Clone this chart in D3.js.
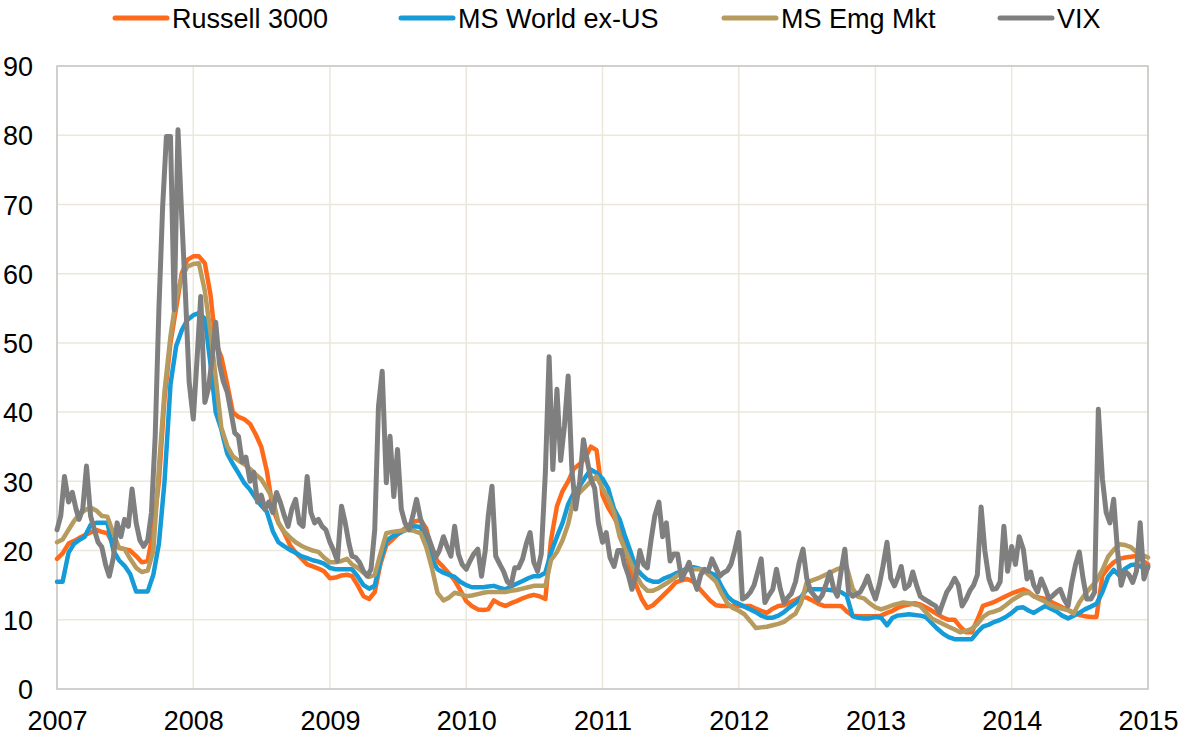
<!DOCTYPE html>
<html>
<head>
<meta charset="utf-8">
<script src="https://cdn.jsdelivr.net/npm/d3@7"></script>
<style>
    body { margin: 0; background: #fff; }
    .chart1 text { font-family: "Liberation Sans", Arial, sans-serif; fill: #000; }
</style>
</head>
<body>
<div class="chart1"></div>
<script>
// rolling volatility of the equity indices against the VIX, 2007 - 2015
var seriesNames = ["Russell 3000", "MS World ex-US", "MS Emg Mkt", "VIX"];
var seriesColors = ["#fe6a1a", "#159bd7", "#b69a5e", "#7f7f7f"];
var yearTicks = [2007, 2008, 2009, 2010, 2011, 2012, 2013, 2014, 2015];
var valueTicks = [0, 10, 20, 30, 40, 50, 60, 70, 80, 90];

// twice a month (1st and 16th), then 1 jan 2015
var russell = [18.8, 19.6, 21, 21.4, 21.8, 22.2, 22.6, 23, 22.7, 22.5, 20.8, 20.4, 20.2, 20, 19.2, 18.3, 18.5, 23, 30, 42, 50, 55, 60, 62,
    62.5, 62.5, 61.5, 57, 50, 48, 44, 40, 39.3, 39, 38.3, 36.8, 35, 31.5, 26, 24, 22.5, 20.8, 19.7, 18.9, 18, 17.7, 17.4, 17,
    16, 16.1, 16.4, 16.5, 16.3, 15, 13.4, 13, 14, 18, 20.8, 21.5, 22.3, 23, 23.7, 24.2, 24.4, 23.2, 19.8, 18.5, 17.6, 16.7, 15.7, 14.3,
    12.7, 12, 11.5, 11.4, 11.5, 12.8, 12.3, 12, 12.4, 12.7, 13.1, 13.4, 13.6, 13.4, 13, 21.5, 26.4, 28.6, 30, 31.8, 32.5, 33.4, 35, 34.5,
    28, 26.2, 24.8, 23.3, 21, 17.5, 15, 13, 11.7, 12.1, 12.9, 13.7, 14.5, 15.4, 15.7, 15.9, 15.5, 14.6, 13.7, 12.8, 12.1, 12, 12, 12,
    12, 12, 12, 11.6, 11.3, 11, 11.6, 12, 12.1, 12.5, 12.9, 13.3, 13.2, 12.8, 12.3, 12, 12, 12, 12, 11.2, 10.6, 10.5, 10.5, 10.5,
    10.5, 10.6, 11, 11.3, 11.7, 12, 12.2, 12.4, 12.2, 11.8, 11.3, 10.8, 10.3, 10, 10, 9, 8.2, 8.2, 10, 12, 12.3, 12.6, 13, 13.4,
    13.8, 14.1, 14.4, 14, 13.4, 13.2, 13, 12.6, 12.2, 11.8, 11.4, 11, 10.7, 10.5, 10.4, 10.4, 16.4, 17.5, 18.3, 18.8, 19, 19.1, 19.2, 18.6,
    18];
var msWorld = [15.5, 15.5, 19.7, 21, 21.5, 22, 23.7, 24, 24, 24, 20, 18.6, 17.8, 16.6, 14.1, 14.1, 14.1, 16.5, 21, 30, 44, 49.5, 51.8, 53.3,
    54, 54.3, 53.5, 47, 40, 37.5, 34, 32.5, 31.2, 29.8, 28.8, 27.6, 26.5, 25.6, 22.8, 21.2, 20.6, 20.1, 19.7, 19.2, 18.9, 18.6, 18.4, 18.1,
    17.5, 17.3, 17.3, 17.3, 17.3, 16.3, 15, 14.5, 14.9, 18.5, 21.4, 22, 22.4, 22.8, 23.2, 23.5, 23.4, 21, 18.7, 17.3, 16.8, 16.5, 16.2, 15.5,
    15, 14.7, 14.7, 14.7, 14.8, 14.9, 14.6, 14.4, 14.8, 15.2, 15.6, 16, 16.3, 16.3, 16.8, 19.7, 22, 24, 26.7, 28.3, 29.3, 30.6, 31.7, 31.2,
    30.4, 29, 26, 24.5, 22.3, 20, 17.4, 16.5, 15.8, 15.5, 15.5, 16, 16.3, 16.7, 17, 17.5, 17.6, 17.4, 17.1, 16.8, 16.4, 14.8, 13.4, 12.7,
    12.3, 11.9, 11.5, 11.1, 10.6, 10.3, 10.3, 10.6, 11.1, 11.8, 12.4, 13.3, 14.4, 14.4, 14.4, 14.4, 14.3, 14.2, 14, 13.5, 10.5, 10.3, 10.2, 10.2,
    10.4, 10.3, 9.2, 10.3, 10.6, 10.7, 10.8, 10.7, 10.6, 10.4, 9.5, 8.7, 8, 7.5, 7.2, 7.2, 7.2, 7.2, 8.2, 9, 9.3, 9.7, 10, 10.4,
    11, 11.7, 11.8, 11.3, 11, 11.5, 12, 11.6, 11.2, 10.6, 10.2, 10.6, 11, 11.5, 11.9, 12.3, 14, 16.2, 17.2, 16.4, 17.4, 17.9, 18, 17.6,
    17.5];
var msEmg = [21.2, 21.6, 23, 24.3, 25.2, 25.8, 26.2, 25.8, 25, 24.9, 22.5, 20.4, 20.2, 18.8, 17.5, 16.9, 17.1, 20, 32, 43, 51, 56.5, 59.5, 61,
    61.4, 61.5, 57.5, 51.5, 45, 37.8, 35.1, 33.6, 33, 32.5, 31.8, 31, 30.3, 29, 27.5, 24, 22.7, 21.9, 21.2, 20.7, 20.3, 20, 19.8, 19,
    18.3, 18.3, 18.5, 18.8, 18, 17.5, 16.8, 16.2, 16.5, 19.5, 22.5, 22.7, 22.8, 22.9, 23, 22.8, 22.5, 20.5, 17.5, 13.9, 12.8, 13.2, 13.9, 13.7,
    13.4, 13.5, 13.7, 13.9, 14, 14, 14, 14, 14.2, 14.3, 14.5, 14.7, 14.9, 14.9, 14.9, 18.6, 19.8, 21.5, 23.8, 27.5, 28.4, 29.2, 30, 30.7,
    29, 27.6, 25.5, 22, 20.3, 18.5, 16.4, 15, 14.2, 14.2, 14.6, 15.1, 15.6, 16.2, 16.8, 17.2, 17.3, 17.3, 17, 16.3, 15.5, 13.8, 12.4, 11.7,
    11.3, 10.8, 9.8, 8.8, 8.9, 9, 9.2, 9.4, 9.7, 10.3, 10.9, 12.5, 15.4, 15.7, 16, 16.4, 16.8, 17.2, 17.5, 17.7, 14.5, 13.3, 13.1, 12.4,
    11.8, 11.5, 11.8, 12.1, 12.3, 12.5, 12.4, 12.2, 12, 11.1, 10.2, 9.8, 9.4, 9, 8.6, 8.2, 8.4, 8.7, 9.4, 10.4, 11, 11.2, 11.5, 12.1,
    12.8, 13.3, 13.8, 13.9, 13.4, 13, 12.6, 12.1, 11.8, 11.6, 11.4, 10.9, 12.5, 13.7, 14.7, 15.6, 17.2, 19.1, 20.1, 20.9, 20.8, 20.5, 19.8, 19.4,
    19];
// three times a month (1st, 11th, 21st), then 1 jan 2015
var vix = [23, 25, 30.7, 27, 28.4, 26, 24.5, 26, 32.2, 25, 23, 21.2, 20.5, 18, 16.3, 19, 24, 22, 24.5, 23.5, 28.9, 24, 21.5, 20.6,
    21.5, 25.5, 36.5, 55, 69.7, 79.8, 79.8, 54.8, 80.8, 68.3, 57, 44.3, 39, 47.6, 56.7, 41.4, 43.5, 48, 53, 47, 44.5, 42.9, 40, 37,
    36.5, 32.8, 33.5, 30, 31.3, 27, 28, 26, 27, 25.5, 28.4, 27, 25, 23.5, 26, 27.4, 24, 23.5, 30.7, 25.5, 24, 24.5, 23.5, 23,
    21.2, 20, 18.5, 26.4, 24, 21, 19.2, 19, 18.3, 17, 16.3, 17.3, 23, 40.8, 45.9, 29.8, 36.5, 27.8, 34.6, 26, 24, 23, 25, 27.4,
    24.5, 23, 22, 20.5, 19, 20, 22, 20.5, 19.2, 23.5, 19.5, 18, 17.3, 18.5, 19.5, 20.2, 16.3, 20, 25, 29.3, 19.2, 18, 17, 15.5,
    15, 17.5, 17.5, 18.8, 21, 22.6, 18.3, 17, 19.5, 31.3, 48, 31.7, 43.3, 33, 38, 45.2, 31.7, 26, 30, 36, 33, 30.3, 29, 24,
    21.2, 22.6, 19, 17.7, 20, 20, 18, 16.5, 14.4, 16.5, 20, 18, 17.5, 21.5, 25, 27, 22, 24, 18.5, 19.5, 19.5, 15.8, 17, 18.3,
    16, 14.4, 16.5, 17.3, 17, 18.8, 17.5, 16.3, 16.8, 17.1, 18, 20, 22.6, 13, 13.3, 14, 15, 17, 18.8, 12.5, 13.5, 14.4, 17.3, 14.5,
    12.5, 13.2, 13.8, 15.5, 18.3, 20.2, 16, 14.2, 13.5, 12.8, 13.5, 15, 16.9, 14.5, 13.4, 17, 20.2, 14, 13.4, 13.7, 14, 15, 16.3, 14.5,
    13, 15, 17.7, 21.2, 16, 14.9, 16, 17.7, 14.5, 15, 16.9, 15, 13.4, 13, 12.7, 12.3, 12, 11, 12.5, 14, 14.8, 16, 15, 12,
    13, 14.2, 15, 16.5, 26.3, 20, 15.9, 14.4, 14.5, 15.5, 23.5, 17, 20.6, 18, 22, 20.2, 15.9, 16.9, 15, 14, 15.9, 14.5, 13, 13.5,
    14, 14.4, 13, 12, 15.4, 18, 19.8, 16, 13, 13, 14, 40.4, 30.3, 25.5, 24, 27.4, 20.2, 15, 17, 16.5, 15.4, 17, 24, 15.9,
    17.7];

function makeDates(days) {
    var out = [];
    for (var m = 0; m < 96; m++) {
        days.forEach(function (d) { out.push(new Date(2007, m, d)); });
    }
    out.push(new Date(2015, 0, 1));
    return out;
}
var semiMonthly = makeDates([1, 16]);
var thirds = makeDates([1, 11, 21]);

var series = [
    { name: seriesNames[0], dates: semiMonthly, values: russell },
    { name: seriesNames[1], dates: semiMonthly, values: msWorld },
    { name: seriesNames[2], dates: semiMonthly, values: msEmg },
    { name: seriesNames[3], dates: thirds, values: vix }
];

var margins = { top: 66, right: 32, bottom: 49, left: 57 };
var width = 1180 - margins.left - margins.right;
var height = 738 - margins.top - margins.bottom;

var x = d3.scaleTime()
    .domain([new Date(2007, 0, 1), new Date(2015, 0, 1)])
    .range([0, width]);

var y = d3.scaleLinear()
    .domain([0, 90])
    .range([height, 0]);

var svg = d3.select(".chart1").append("svg")
    .attr("width", 1180)
    .attr("height", 738)
    .append("g")
    .attr("transform", "translate(" + margins.left + "," + margins.top + ")");

// gridlines
svg.append("g")
    .selectAll("line")
    .data(valueTicks)
    .enter().append("line")
    .attr("x1", 0)
    .attr("x2", width)
    .attr("y1", function (d) { return y(d); })
    .attr("y2", function (d) { return y(d); })
    .attr("stroke", "#ebe7da")
    .attr("stroke-width", 1.5);

svg.append("g")
    .selectAll("line")
    .data(yearTicks)
    .enter().append("line")
    .attr("x1", function (d) { return x(new Date(d, 0, 1)); })
    .attr("x2", function (d) { return x(new Date(d, 0, 1)); })
    .attr("y1", 0)
    .attr("y2", height)
    .attr("stroke", "#ebe7da")
    .attr("stroke-width", 1.5);

// plot frame
svg.append("rect")
    .attr("x", 0)
    .attr("y", 0)
    .attr("width", width)
    .attr("height", height)
    .attr("fill", "none")
    .attr("stroke", "#c6c6c6")
    .attr("stroke-width", 1.5);

// axes, labels only
var yAxis = svg.append("g")
    .call(d3.axisLeft(y).tickValues(valueTicks).tickSize(0).tickPadding(24));
yAxis.select(".domain").remove();
yAxis.selectAll("text")
    .style("font-size", "27px")
    .attr("dy", "0.36em");

var xAxis = svg.append("g")
    .attr("transform", "translate(0," + height + ")")
    .call(d3.axisBottom(x)
        .tickValues(yearTicks.map(function (d) { return new Date(d, 0, 1); }))
        .tickFormat(d3.timeFormat("%Y"))
        .tickSize(0)
        .tickPadding(22));
xAxis.select(".domain").remove();
xAxis.selectAll("text")
    .style("font-size", "27px");

// the lines, VIX last so it sits on top
var line = d3.line()
    .x(function (d) { return x(d[0]); })
    .y(function (d) { return y(d[1]); });

svg.selectAll(".series")
    .data(series)
    .enter().append("path")
    .attr("class", "series")
    .attr("d", function (s) {
        return line(s.dates.map(function (dt, i) { return [dt, s.values[i]]; }));
    })
    .attr("fill", "none")
    .attr("stroke", function (s, i) { return seriesColors[i]; })
    .attr("stroke-width", function (s, i) { return i === 3 ? 5 : 4.5; })
    .attr("stroke-linejoin", "round")
    .attr("stroke-linecap", "round");

// legend
var legendX = [113, 399, 722, 998];
var legend = d3.select(".chart1 svg").append("g");
var item = legend.selectAll("g")
    .data(seriesNames)
    .enter().append("g")
    .attr("transform", function (d, i) { return "translate(" + legendX[i] + ",18)"; });

item.append("line")
    .attr("x1", 2)
    .attr("x2", 54)
    .attr("stroke", function (d, i) { return seriesColors[i]; })
    .attr("stroke-width", 5)
    .attr("stroke-linecap", "round");

item.append("text")
    .attr("x", 59)
    .attr("dy", "0.36em")
    .style("font-size", "27px")
    .text(function (d) { return d; });
</script>
</body>
</html>
